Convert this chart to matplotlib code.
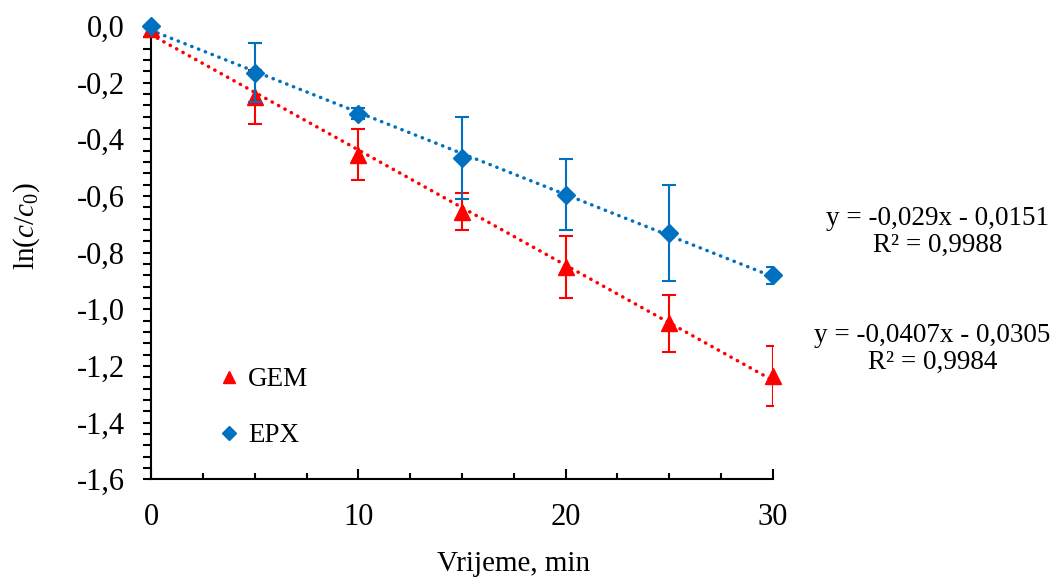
import numpy as np
import matplotlib
matplotlib.use("Agg")
import matplotlib.pyplot as plt
from matplotlib.ticker import MultipleLocator, FuncFormatter

plt.rcParams["font.family"] = ["Liberation Serif", "DejaVu Serif"]
plt.rcParams["mathtext.fontset"] = "custom"
plt.rcParams["mathtext.rm"] = "Liberation Serif"
plt.rcParams["mathtext.it"] = "Liberation Serif:italic"
plt.rcParams["axes.unicode_minus"] = False

# vrijeme (min)
time_min = [0, 5, 10, 15, 20, 25, 30]

# ln(c/c0) i standardne devijacije
gem_vals = [-0.01, -0.25, -0.455, -0.655, -0.85, -1.05, -1.235]
gem_err = [0.0, 0.095, 0.09, 0.065, 0.11, 0.10, 0.105]
epx_vals = [0.0, -0.165, -0.31, -0.465, -0.595, -0.73, -0.88]
epx_err = [0.0, 0.105, 0.02, 0.145, 0.125, 0.17, 0.03]

# linearni trend (nagib, odsjecak) i R^2
gem_fit = [-0.0407, -0.0305]
epx_fit = [-0.029, -0.0151]
gem_r2 = "0,9984"
epx_r2 = "0,9988"

RED = "#FF0000"
BLUE = "#0070C0"

fig = plt.figure(figsize=(10.56, 5.78), dpi=100)
ax = fig.add_axes([0.143, 0.171, 0.589, 0.784])

xs = np.array([time_min[0], time_min[-1]])
ax.plot(xs, gem_fit[0] * xs + gem_fit[1], color=RED, lw=2.5,
        linestyle=(0, (0.1, 2)), dash_capstyle="round", zorder=2)
ax.plot(xs, epx_fit[0] * xs + epx_fit[1], color=BLUE, lw=2.5,
        linestyle=(0, (0.1, 2)), dash_capstyle="round", zorder=2)

gem = ax.errorbar(time_min, gem_vals, yerr=gem_err, fmt="^", color=RED, ms=11,
                  ecolor=RED, elinewidth=1.5, capsize=5, capthick=1.5, zorder=3)
epx = ax.errorbar(time_min, epx_vals, yerr=epx_err, fmt="D", color=BLUE, ms=9,
                  ecolor=BLUE, elinewidth=1.5, capsize=5, capthick=1.5, zorder=4)
for cont in (gem, epx):
    cont[0].set_clip_on(False)

ax.set_xlim(0, 30)
ax.set_ylim(-1.6, 0)
ax.spines["top"].set_visible(False)
ax.spines["right"].set_visible(False)
for s in ("left", "bottom"):
    ax.spines[s].set_linewidth(1.5)

ax.xaxis.set_major_locator(MultipleLocator(10))
ax.xaxis.set_minor_locator(MultipleLocator(2.5))
ax.yaxis.set_major_locator(MultipleLocator(0.2))
ax.yaxis.set_minor_locator(MultipleLocator(0.04))
ax.yaxis.set_major_formatter(FuncFormatter(lambda v, p: f"{v:.1f}".replace(".", ",")))

ax.tick_params(axis="x", which="major", direction="in", length=7, width=1.5,
               pad=17, labelsize=22)
ax.tick_params(axis="x", which="minor", direction="in", length=4.5, width=1.5)
ax.tick_params(axis="y", which="both", direction="out", length=6, width=1.5,
               pad=13, labelsize=22)

ax.set_xlabel("Vrijeme, min", fontsize=21)
ax.xaxis.set_label_coords(0.583, -0.159)
ax.set_ylabel(r"$\mathrm{ln}(c/c_0)$", fontsize=21)
ax.yaxis.set_label_coords(-0.175, 0.558)

h_gem = ax.plot([], [], "^", color=RED, ms=9, label="GEM")[0]
h_epx = ax.plot([], [], "D", color=BLUE, ms=7, label="EPX")[0]
ax.legend(handles=[h_gem, h_epx], loc="lower left", bbox_to_anchor=(0.069, 0.015),
          frameon=False, fontsize=19.5, handlelength=0.8, handletextpad=0.3,
          labelspacing=1.14)

fig.text(0.888, 0.599, f"y = {epx_fit[0]:.3f}x - {abs(epx_fit[1]):.4f}".replace(".", ",")
         + f"\nR² = {epx_r2}", ha="center", va="center", fontsize=19.5,
         multialignment="center", linespacing=1.1)
fig.text(0.883, 0.397, f"y = {gem_fit[0]:.4f}x - {abs(gem_fit[1]):.4f}".replace(".", ",")
         + f"\nR² = {gem_r2}", ha="center", va="center", fontsize=19.5,
         multialignment="center", linespacing=1.1)

fig.savefig("out.png", dpi=100)
